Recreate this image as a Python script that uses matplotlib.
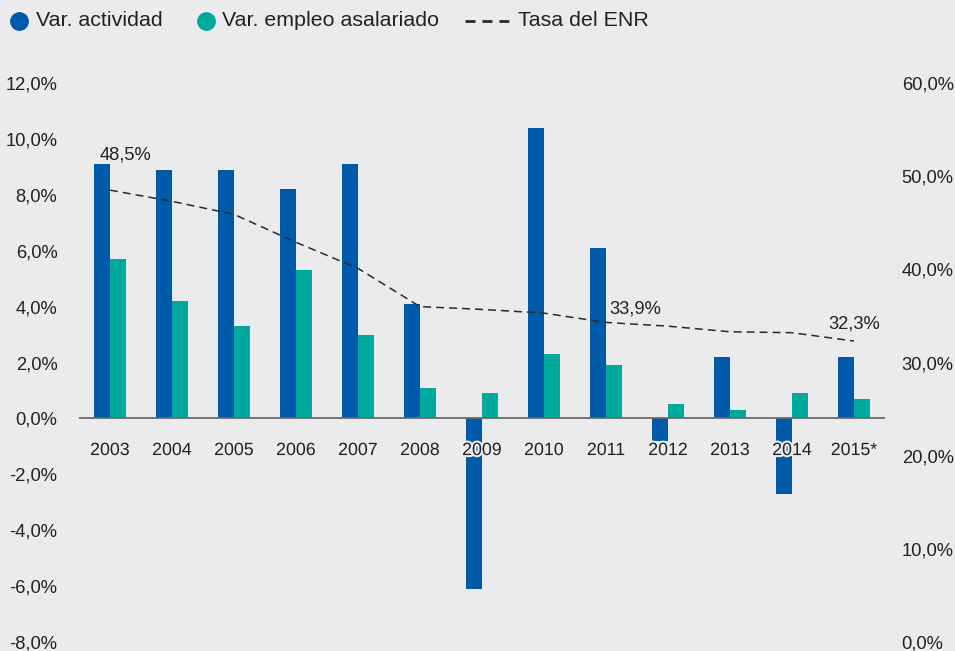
import numpy as np
import matplotlib
matplotlib.use("Agg")
import matplotlib.pyplot as plt
import matplotlib.patheffects as pe
from matplotlib.lines import Line2D

# data
years = ["2003", "2004", "2005", "2006", "2007", "2008", "2009",
         "2010", "2011", "2012", "2013", "2014", "2015*"]
var_actividad = [9.1, 8.9, 8.9, 8.2, 9.1, 4.1, -6.1,
                 10.4, 6.1, -0.8, 2.2, -2.7, 2.2]
var_empleo = [5.7, 4.2, 3.3, 5.3, 3.0, 1.1, 0.9,
              2.3, 1.9, 0.5, 0.3, 0.9, 0.7]
tasa_enr = [48.5, 47.3, 45.9, 42.9, 40.1, 36.0, 35.7,
            35.3, 34.3, 33.9, 33.3, 33.2, 32.3]
left_ticks = [-8, -6, -4, -2, 0, 2, 4, 6, 8, 10, 12]
right_ticks = [0, 10, 20, 30, 40, 50, 60]

# style
BG = "#ebebed"
BLUE = "#005aaa"
TEAL = "#00a99d"
TXT = "#222222"
plt.rcParams["font.family"] = ["Liberation Sans", "DejaVu Sans"]

W, H = 955, 651
fig = plt.figure(figsize=(W / 100, H / 100), dpi=100, facecolor=BG)
ax = fig.add_axes([79 / W, 9 / H, (885 - 79) / W, (642 - 83) / H])
ax.set_facecolor(BG)

x = np.arange(len(years))
bw = 0.258
ax.bar(x - bw / 2, var_actividad, bw, color=BLUE, zorder=2)
ax.bar(x + bw / 2, var_empleo, bw, color=TEAL, zorder=2)
ax.axhline(0, color="#6b6b6b", lw=1.3, zorder=3)

ax.set_xlim(-0.5, len(years) - 0.5)
ax.set_ylim(-8, 12)
ax.set_xticks([])
ax.set_yticks(left_ticks)
ax.set_yticklabels([f"{v:.1f}%".replace(".", ",") for v in left_ticks])
ax.tick_params(axis="y", length=0, pad=15.5, labelsize=13.2, labelcolor=TXT)
for s in ax.spines.values():
    s.set_visible(False)

# year labels just under the zero line
for i, yr in enumerate(years):
    ax.text(i, -1.15, yr, ha="center", va="center", fontsize=12.8, color=TXT,
            zorder=5, path_effects=[pe.withStroke(linewidth=3, foreground=BG)])

ax2 = ax.twinx()
ax2.set_ylim(0, 60)
ax2.set_yticks(right_ticks)
ax2.set_yticklabels([f"{v:.1f}%".replace(".", ",") for v in right_ticks])
ax2.tick_params(axis="y", length=0, pad=12, labelsize=13.2, labelcolor=TXT)
for s in ax2.spines.values():
    s.set_visible(False)

ax2.plot(x, tasa_enr, color="#2a2a2a", lw=1.1, dashes=(5.2, 3.3), zorder=4)

# value labels on the ENR line
for i, (dx, dy) in [(0, (15, 35)), (9, (-33, 17)), (12, (0, 17))]:
    ax2.annotate(f"{tasa_enr[i]:.1f}%".replace(".", ","), xy=(x[i], tasa_enr[i]),
                 xytext=(dx, dy), textcoords="offset pixels",
                 ha="center", va="center", fontsize=13.2, color=TXT)

# legend
ly = 1 - 21 / H
fig.add_artist(Line2D([19 / W], [ly], marker="o", ms=12.5, color=BLUE, lw=0))
fig.text(36 / W, ly, "Var. actividad", va="center", fontsize=15.4, color=TXT)
fig.add_artist(Line2D([206 / W], [ly], marker="o", ms=12.5, color=TEAL, lw=0))
fig.text(222 / W, ly, "Var. empleo asalariado", va="center", fontsize=15.4, color=TXT)
fig.add_artist(Line2D([465 / W, 509 / W], [ly, ly], color="#2a2a2a", lw=2,
                      dashes=(3.6, 2.5)))
fig.text(518 / W, ly, "Tasa del ENR", va="center", fontsize=15.4, color=TXT)

fig.savefig("out.png", dpi=100, facecolor=BG)
